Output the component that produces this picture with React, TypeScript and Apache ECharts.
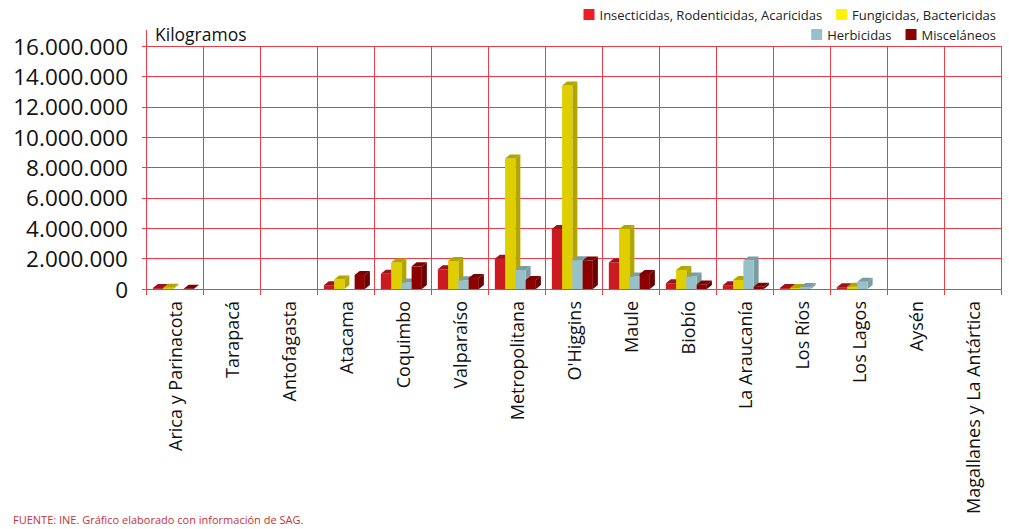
import React, { useEffect, useRef } from "react";
import * as echarts from "echarts";

const categories = [
  "Arica y Parinacota",
  "Tarapacá",
  "Antofagasta",
  "Atacama",
  "Coquimbo",
  "Valparaíso",
  "Metropolitana",
  "O'Higgins",
  "Maule",
  "Biobío",
  "La Araucanía",
  "Los Ríos",
  "Los Lagos",
  "Aysén",
  "Magallanes y La Antártica",
];

const insecticidas = [60000, 0, 0, 250000, 1000000, 1300000, 2000000, 3950000, 1750000, 380000, 250000, 60000, 120000, 0, 0];
const fungicidas = [80000, 0, 0, 620000, 1750000, 1850000, 8600000, 13400000, 3950000, 1250000, 600000, 60000, 150000, 0, 0];
const herbicidas = [0, 0, 0, 0, 420000, 570000, 1250000, 1900000, 820000, 820000, 1870000, 130000, 480000, 0, 0];
const miscelaneos = [20000, 0, 0, 920000, 1490000, 720000, 600000, 1870000, 990000, 300000, 150000, 0, 0, 0, 0];

const seriesNames = [
  "Insecticidas, Rodenticidas, Acaricidas",
  "Fungicidas, Bactericidas",
  "Herbicidas",
  "Misceláneos",
];

const yTicks = [0, 2000000, 4000000, 6000000, 8000000, 10000000, 12000000, 14000000, 16000000];

const legendColors = ["#ee1c25", "#fff200", "#96c1c8", "#8b0000"];
const faceColors = [
  { front: "#cc1a21", top: "#a0121a", side: "#a0121a" },
  { front: "#dfce00", top: "#b3a500", side: "#b3a500" },
  { front: "#96c1c8", top: "#7b9da2", side: "#7b9da2" },
  { front: "#8c0000", top: "#7e0000", side: "#6a0000" },
];

const GRID = "#ee3d47";

function fmt(v: number): string {
  return String(Math.round(v)).replace(/\B(?=(\d{3})+(?!\d))/g, ".");
}

function makeRender(s: number) {
  return (params: any, api: any) => {
    const cat = api.value(0);
    const v = api.value(1);
    if (!v) return null;
    const base = api.coord([cat, 0]);
    const top = api.coord([cat, v]);
    const band = api.size([1, 0])[0];
    const bw = band * 0.18;
    const d = 5;
    const dy = 4;
    const x0 = base[0] - 2 * bw - band * 0.02 + s * bw;
    const y0 = base[1];
    const yt = top[1];
    const c = faceColors[s];
    return {
      type: "group",
      children: [
        {
          type: "polygon",
          shape: {
            points: [
              [x0 + bw, yt],
              [x0 + bw + d, yt - dy],
              [x0 + bw + d, y0 - dy],
              [x0 + bw, y0],
            ],
          },
          style: { fill: c.side },
        },
        {
          type: "rect",
          shape: { x: x0, y: yt, width: bw, height: y0 - yt },
          style: { fill: c.front },
        },
        {
          type: "polygon",
          shape: {
            points: [
              [x0, yt],
              [x0 + d, yt - dy],
              [x0 + bw + d, yt - dy],
              [x0 + bw, yt],
            ],
          },
          style: { fill: c.top },
        },
      ],
    };
  };
}

export default function App() {
  const ref = useRef<HTMLDivElement>(null);
  useEffect(() => {
    if (!ref.current) return;
    const chart = echarts.init(ref.current, null, { renderer: "svg" });
    const allSeries = [insecticidas, fungicidas, herbicidas, miscelaneos];
    const legendText = { fontFamily: "Open Sans", fontSize: 13, color: "#222" };
    chart.setOption({
      animation: false,
      backgroundColor: "#ffffff",
      title: {
        text: "Kilogramos",
        left: 155,
        top: 25,
        padding: 0,
        textStyle: { fontFamily: "Open Sans", fontSize: 17.5, fontWeight: "normal", color: "#111" },
      },
      legend: [
        {
          data: [seriesNames[0], seriesNames[1]],
          right: 13,
          top: 8,
          itemWidth: 11,
          itemHeight: 11,
          itemGap: 14,
          icon: "rect",
          padding: 0,
          textStyle: legendText,
        },
        {
          data: [seriesNames[2], seriesNames[3]],
          right: 13,
          top: 28,
          itemWidth: 11,
          itemHeight: 11,
          itemGap: 14,
          icon: "rect",
          padding: 0,
          textStyle: legendText,
        },
      ],
      grid: { left: 146, right: 8, top: 46, bottom: 240, containLabel: false },
      xAxis: {
        type: "category",
        data: categories,
        boundaryGap: true,
        axisLine: { lineStyle: { color: GRID, width: 1 } },
        axisTick: { show: true, length: 6, lineStyle: { color: GRID } },
        splitLine: { show: true, lineStyle: { color: GRID, width: 1 } },
        axisLabel: {
          rotate: 90,
          interval: 0,
          margin: 12,
          fontFamily: "Open Sans",
          fontSize: 18,
          color: "#111",
        },
      },
      yAxis: {
        type: "value",
        min: 0,
        max: yTicks[yTicks.length - 1],
        interval: yTicks[1] - yTicks[0],
        axisLine: { show: true, lineStyle: { color: GRID, width: 1 } },
        axisTick: { show: true, length: 4, lineStyle: { color: GRID } },
        splitLine: { show: true, lineStyle: { color: GRID, width: 1 } },
        axisLabel: {
          margin: 18,
          fontFamily: "Open Sans",
          fontSize: 22.5,
          color: "#111",
          formatter: (v: number) => fmt(v),
        },
      },
      graphic: [
        {
          type: "line",
          shape: { x1: 146.5, y1: 30, x2: 146.5, y2: 46 },
          style: { stroke: GRID, lineWidth: 1 },
        },
        {
          type: "text",
          left: 13,
          top: 514,
          style: {
            text: "FUENTE: INE. Gráfico elaborado con información de SAG.",
            fill: "#c8313a",
            fontFamily: "Open Sans",
            fontSize: 11,
          },
        },
      ],
      series: allSeries.map((arr, s) => ({
        type: "custom",
        name: seriesNames[s],
        itemStyle: { color: legendColors[s] },
        renderItem: makeRender(s),
        encode: { x: 0, y: 1 },
        data: arr.map((v, i) => [i, v]),
      })),
    });
    return () => chart.dispose();
  }, []);
  return (
    <div
      ref={ref}
      style={{ position: "absolute", left: 0, top: 0, width: 1009, height: 529 }}
    />
  );
}
